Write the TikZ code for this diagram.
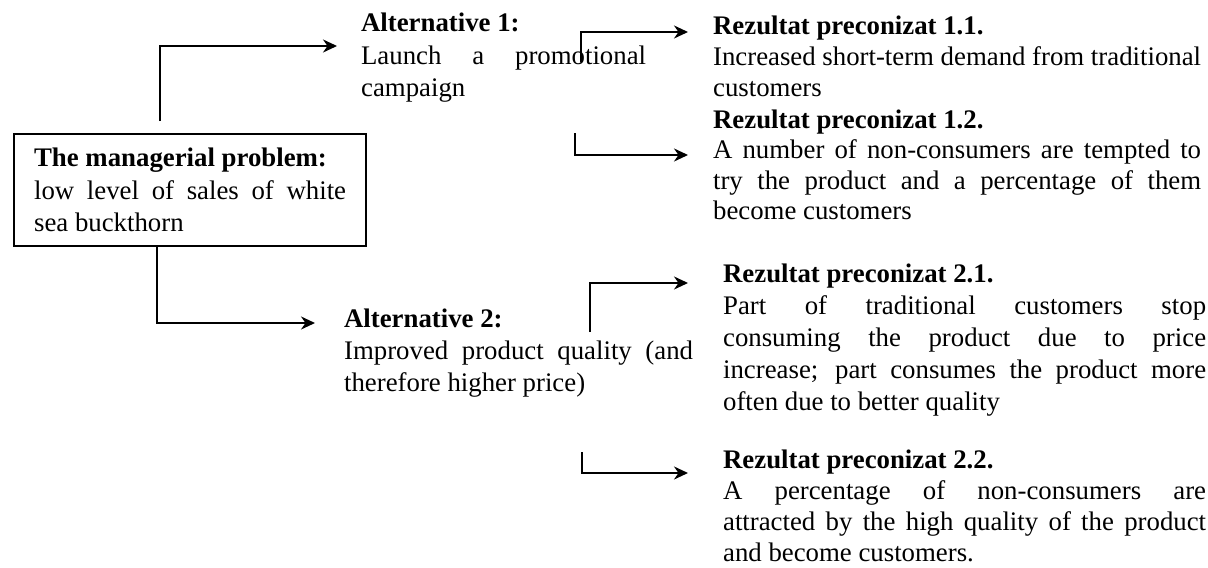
\documentclass[tikz,border=0pt]{standalone}
\usepackage{fontspec}
\setmainfont{Liberation Serif}
\usetikzlibrary{arrows.meta,calc}
\tolerance=9999\relax
\hbadness=10000\relax

\tikzset{
  txt/.style={anchor=base west, inner sep=0pt, align=justify,
    font=\fontsize{13.4pt}{16.1pt}\selectfont},
  restxt/.style={txt, font=\fontsize{13.4pt}{15.3pt}\selectfont},
  problem/.style={draw, anchor=north west, inner xsep=10pt, inner ysep=7pt,
    text width=156pt, align=justify, font=\fontsize{13.4pt}{16.2pt}\selectfont}
}

\begin{document}
\begin{tikzpicture}[x=0.5pt,y=-0.5pt,->,>={Stealth[length=7pt,width=6.5pt]},
    line width=1.1pt]
  \useasboundingbox (0,0) rectangle (1208,567);
  % problem and the two alternatives
  \node[problem] (prob) at (13,133)
    {\textbf{The managerial problem:}\\ low level of sales of white\linebreak sea buckthorn};
  \node[txt, text width=142.5pt] (alt1) at (360,32)
    {\textbf{Alternative 1:}\\ Launch a promotional\linebreak campaign};
  \node[txt, text width=174.5pt] (alt2) at (343,327)
    {\textbf{Alternative 2:}\\ Improved product quality (and\linebreak therefore higher price)};
  % expected results
  \node[restxt, text width=244pt] (res11) at (712,35)
    {\textbf{Rezultat preconizat 1.1.}\\ Increased short-term demand from traditional\linebreak customers};
  \node[restxt, text width=244pt] (res12) at (712,128)
    {\textbf{Rezultat preconizat 1.2.}\\ A number of non-consumers are tempted to\linebreak
     try the product and a percentage of them\linebreak become customers};
  \node[txt, text width=241.5pt] (res21) at (722,282)
    {\textbf{Rezultat preconizat 2.1.}\\ Part of traditional customers stop\linebreak
     consuming the product due to price\linebreak increase; part consumes the product more\linebreak
     often due to better quality};
  \node[txt, text width=241.5pt, font=\fontsize{13.4pt}{15.6pt}\selectfont] (res22) at (722,468)
    {\textbf{Rezultat preconizat 2.2.}\\ A percentage of non-consumers are\linebreak
     attracted by the high quality of the product\linebreak and become customers.};

  \draw ($(prob.north west)+(147,-12)$) |- ($(alt1.base west)+(-23,14)$);
  \draw ($(alt1.base west)+(221,30)$) |- ($(res11.base west)+(-24,-3)$);
  \draw ($(alt1.base west)+(215,101)$) |- ($(res12.base west)+(-24,27)$);
  \draw ($(prob.south west)+(144,0)$) |- ($(alt2.base west)+(-28,-4)$);
  \draw ($(alt2.base west)+(247,5)$) |- ($(res21.base west)+(-34,1)$);
  \draw ($(alt2.base west)+(239,125)$) |- ($(res22.base west)+(-34,5)$);
\end{tikzpicture}
\end{document}
